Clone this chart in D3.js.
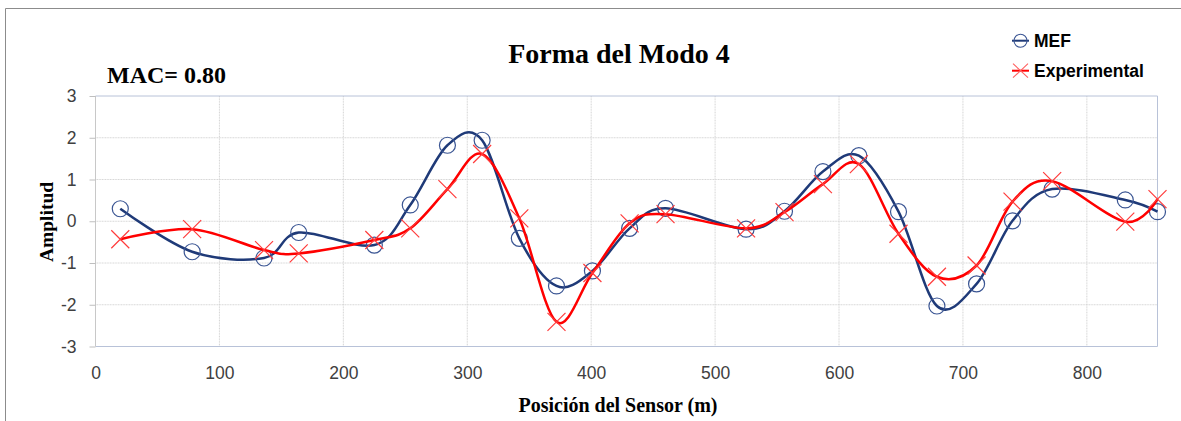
<!DOCTYPE html>
<html><head><meta charset="utf-8">
<script src="https://cdn.jsdelivr.net/npm/d3@7"></script>
<style>body{margin:0;background:#fff}</style>
</head><body><svg id="c" width="1181" height="421"></svg>
<script>
const positions = [20, 78, 136, 164, 225, 254, 284, 312, 342, 372, 401, 431, 460, 525, 556, 587, 616, 648, 679, 711, 740, 772, 831, 857];
const mefValues = [0.30, -0.73, -0.88, -0.27, -0.57, 0.39, 1.82, 1.94, -0.41, -1.55, -1.19, -0.17, 0.31, -0.19, 0.24, 1.19, 1.57, 0.23, -2.03, -1.50, 0.01, 0.77, 0.51, 0.23];
const expValues = [-0.43, -0.19, -0.69, -0.77, -0.45, -0.17, 0.77, 1.61, 0.07, -2.41, -1.24, -0.05, 0.17, -0.17, 0.22, 0.89, 1.37, -0.30, -1.33, -1.06, 0.47, 0.96, -0.01, 0.53];
const xTicks = [0, 100, 200, 300, 400, 500, 600, 700, 800];
const yTicks = [-3, -2, -1, 0, 1, 2, 3];
const seriesNames = ["MEF", "Experimental"];
const titleText = "Forma del Modo 4";
const macText = "MAC= 0.80";
const xTitle = "Posición del Sensor (m)";
const yTitle = "Amplitud";

const svg = d3.select("#c");
const L = 95.5, R = 1157.5, T = 96, B = 346.5;
const x = d3.scaleLinear().domain([0, 857]).range([L, R]);
const y = d3.scaleLinear().domain([-3, 3]).range([B, T]);

// outer border
svg.append("path").attr("d", `M5.5,421 V8.5 H1181`).attr("fill", "none").attr("stroke", "#8c8c8c").attr("stroke-width", 1);

// gridlines
const grid = svg.append("g");
grid.selectAll(".vg").data(xTicks.filter(d => d > 0)).join("line")
  .attr("x1", d => x(d)).attr("x2", d => x(d)).attr("y1", T).attr("y2", B)
  .attr("stroke", "#d4d4d4").attr("stroke-width", 1).attr("stroke-dasharray", "1,0.6");
grid.selectAll(".hg").data(yTicks.filter(d => d > -3 && d < 3)).join("line")
  .attr("x1", L).attr("x2", R).attr("y1", d => y(d)).attr("y2", d => y(d))
  .attr("stroke", "#d4d4d4").attr("stroke-width", 1).attr("stroke-dasharray", "1,0.6");

// plot border
svg.append("line").attr("x1", L).attr("x2", R).attr("y1", T).attr("y2", T).attr("stroke", "#b8c2d8");
svg.append("line").attr("x1", R).attr("x2", R).attr("y1", T).attr("y2", B).attr("stroke", "#b8c2d8");
svg.append("line").attr("x1", L).attr("x2", R).attr("y1", B).attr("y2", B).attr("stroke", "#b8c2d8");
svg.append("line").attr("x1", L).attr("x2", L).attr("y1", T).attr("y2", B).attr("stroke", "#c8c8c8");

// axes
const fmt = d => String(d);
const yAxis = svg.append("g").attr("transform", `translate(${L},0)`)
  .call(d3.axisLeft(y).tickValues(yTicks).tickFormat(fmt).tickSize(6).tickPadding(13));
yAxis.select(".domain").remove();
yAxis.selectAll(".tick line").attr("stroke", "#bfbfbf");
yAxis.selectAll("text").attr("font-family", "Liberation Sans, Arial, sans-serif").attr("font-size", 17.5).attr("fill", "#404040");

const xAxis = svg.append("g").attr("transform", `translate(0,${B})`)
  .call(d3.axisBottom(x).tickValues(xTicks).tickFormat(fmt).tickSize(0).tickPadding(20));
xAxis.select(".domain").remove();
xAxis.selectAll("text").attr("font-family", "Liberation Sans, Arial, sans-serif").attr("font-size", 17.5).attr("fill", "#404040");

// series
const line = d3.line().x(d => x(d[0])).y(d => y(d[1])).curve(d3.curveCardinal);
const mefData = positions.map((p, i) => [p, mefValues[i]]);
const expData = positions.map((p, i) => [p, expValues[i]]);

svg.append("path").datum(mefData).attr("d", line).attr("fill", "none").attr("stroke", "#1f3a78").attr("stroke-width", 2.5);
svg.append("g").selectAll("circle").data(mefData).join("circle")
  .attr("cx", d => x(d[0])).attr("cy", d => y(d[1])).attr("r", 8)
  .attr("fill", "none").attr("stroke", "#3a5593").attr("stroke-width", 1.2);

svg.append("path").datum(expData).attr("d", line).attr("fill", "none").attr("stroke", "#ff0000").attr("stroke-width", 2.5);
const xs = 9;
svg.append("g").selectAll("path").data(expData).join("path")
  .attr("d", d => { const cx = x(d[0]), cy = y(d[1]); return `M${cx-xs},${cy-xs}L${cx+xs},${cy+xs}M${cx-xs},${cy+xs}L${cx+xs},${cy-xs}`; })
  .attr("fill", "none").attr("stroke", "#ff3b3b").attr("stroke-width", 1.2);

// titles
svg.append("text").attr("x", 619).attr("y", 63).attr("text-anchor", "middle")
  .attr("font-family", "Liberation Serif, Times New Roman, serif").attr("font-weight", "bold").attr("font-size", 28).attr("fill", "#000").text(titleText);
svg.append("text").attr("x", 107).attr("y", 83)
  .attr("font-family", "Liberation Serif, Times New Roman, serif").attr("font-weight", "bold").attr("font-size", 24).attr("fill", "#000").text(macText);
svg.append("text").attr("x", 618).attr("y", 412).attr("text-anchor", "middle")
  .attr("font-family", "Liberation Serif, Times New Roman, serif").attr("font-weight", "bold").attr("font-size", 20).attr("fill", "#000").text(xTitle);
svg.append("text").attr("transform", "translate(53,222) rotate(-90)").attr("text-anchor", "middle")
  .attr("font-family", "Liberation Serif, Times New Roman, serif").attr("font-weight", "bold").attr("font-size", 19.5).attr("fill", "#000").text(yTitle);

// legend
const lg = svg.append("g");
const ly = [40.7, 70.7];
lg.append("line").attr("x1", 1012).attr("x2", 1029).attr("y1", ly[0]).attr("y2", ly[0]).attr("stroke", "#1f3a78").attr("stroke-width", 2);
lg.append("circle").attr("cx", 1020.5).attr("cy", ly[0]).attr("r", 6.5).attr("fill", "none").attr("stroke", "#3a5593").attr("stroke-width", 1.1);
lg.append("line").attr("x1", 1012).attr("x2", 1029).attr("y1", ly[1]).attr("y2", ly[1]).attr("stroke", "#ff0000").attr("stroke-width", 2);
lg.append("path").attr("d", `M1013,${ly[1]-7}L1028,${ly[1]+7}M1013,${ly[1]+7}L1028,${ly[1]-7}`).attr("stroke", "#ff6060").attr("stroke-width", 1.1);
seriesNames.forEach((n, i) => {
  lg.append("text").attr("x", 1034).attr("y", ly[i] + 6.5).attr("font-family", "Liberation Sans, Arial, sans-serif")
    .attr("font-weight", "bold").attr("font-size", 17.5).attr("fill", "#000").text(n);
});
</script>
</body></html>
